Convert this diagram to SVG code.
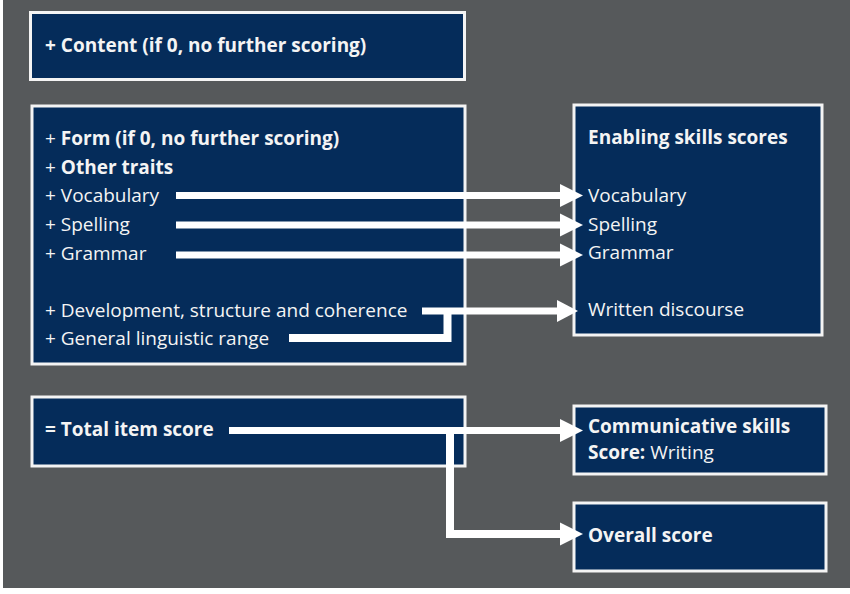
<svg xmlns="http://www.w3.org/2000/svg" width="850" height="594" viewBox="0 0 850 594">
<style>
.box{fill:#052c5a;stroke:#f4f4f4;stroke-width:3}
text{font-family:"Open Sans","DejaVu Sans",sans-serif;font-size:19px;fill:#f4f4f4}
.b{font-weight:bold}
.ln{fill:none;stroke:#ffffff;stroke-width:7;stroke-linejoin:miter;stroke-linecap:butt}
.hd{fill:#ffffff}
</style>
<rect x="0" y="0" width="850" height="594" fill="#ffffff"/>
<rect x="3" y="0" width="847" height="588" fill="#56595b"/>
<g id="content">
<rect class="box" x="30.5" y="12.5" width="434" height="67"/>
<text x="45" y="52" class="b">+ Content (if 0, no further scoring)</text>
</g>
<g id="traits">
<rect class="box" x="32" y="106" width="433" height="258"/>
<text x="45" y="145">+ <tspan class="b">Form (if 0, no further scoring)</tspan></text>
<text x="45" y="174">+ <tspan class="b">Other traits</tspan></text>
<text x="45" y="202">+ Vocabulary</text>
<text x="45" y="231">+ Spelling</text>
<text x="45" y="259.5">+ Grammar</text>
<text x="45" y="316.5">+ Development, structure and coherence</text>
<text x="45" y="345">+ General linguistic range</text>
</g>
<g id="total">
<rect class="box" x="32" y="397" width="433" height="69"/>
<text x="45" y="436" class="b">= Total item score</text>
</g>
<g id="enabling">
<rect class="box" x="574" y="105" width="248" height="230"/>
<text x="588" y="144" class="b">Enabling skills scores</text>
<text x="588" y="202">Vocabulary</text>
<text x="588" y="231">Spelling</text>
<text x="588" y="259">Grammar</text>
<text x="588" y="316">Written discourse</text>
</g>
<g id="communicative">
<rect class="box" x="574" y="406" width="252" height="68"/>
<text x="588" y="433" class="b">Communicative skills</text>
<text x="588" y="459"><tspan class="b">Score:</tspan> Writing</text>
</g>
<g id="overall">
<rect class="box" x="574" y="503" width="252" height="68"/>
<text x="588" y="542" class="b">Overall score</text>
</g>
<g id="connectors">
<line class="ln" x1="176" y1="195.5" x2="562" y2="195.5"/>
<polygon class="hd" points="560,184 583,195.5 560,207"/>
<line class="ln" x1="176" y1="225" x2="562" y2="225"/>
<polygon class="hd" points="560,213.5 583,225 560,236.5"/>
<line class="ln" x1="176" y1="255" x2="562" y2="255"/>
<polygon class="hd" points="560,243.5 583,255 560,266.5"/>
<line class="ln" x1="422" y1="311" x2="559" y2="311"/>
<polygon class="hd" points="557,300 578,311 557,322"/>
<polyline class="ln" style="stroke-width:8" points="289,338 447.5,338 447.5,311"/>
<line class="ln" x1="229" y1="430.5" x2="562" y2="430.5"/>
<polygon class="hd" points="560,419 583,430.5 560,442"/>
<polyline class="ln" style="stroke-width:8" points="450,430 450,534 562,534"/>
<polygon class="hd" points="560,522.5 583,534 560,545.5"/>
</g>
</svg>
